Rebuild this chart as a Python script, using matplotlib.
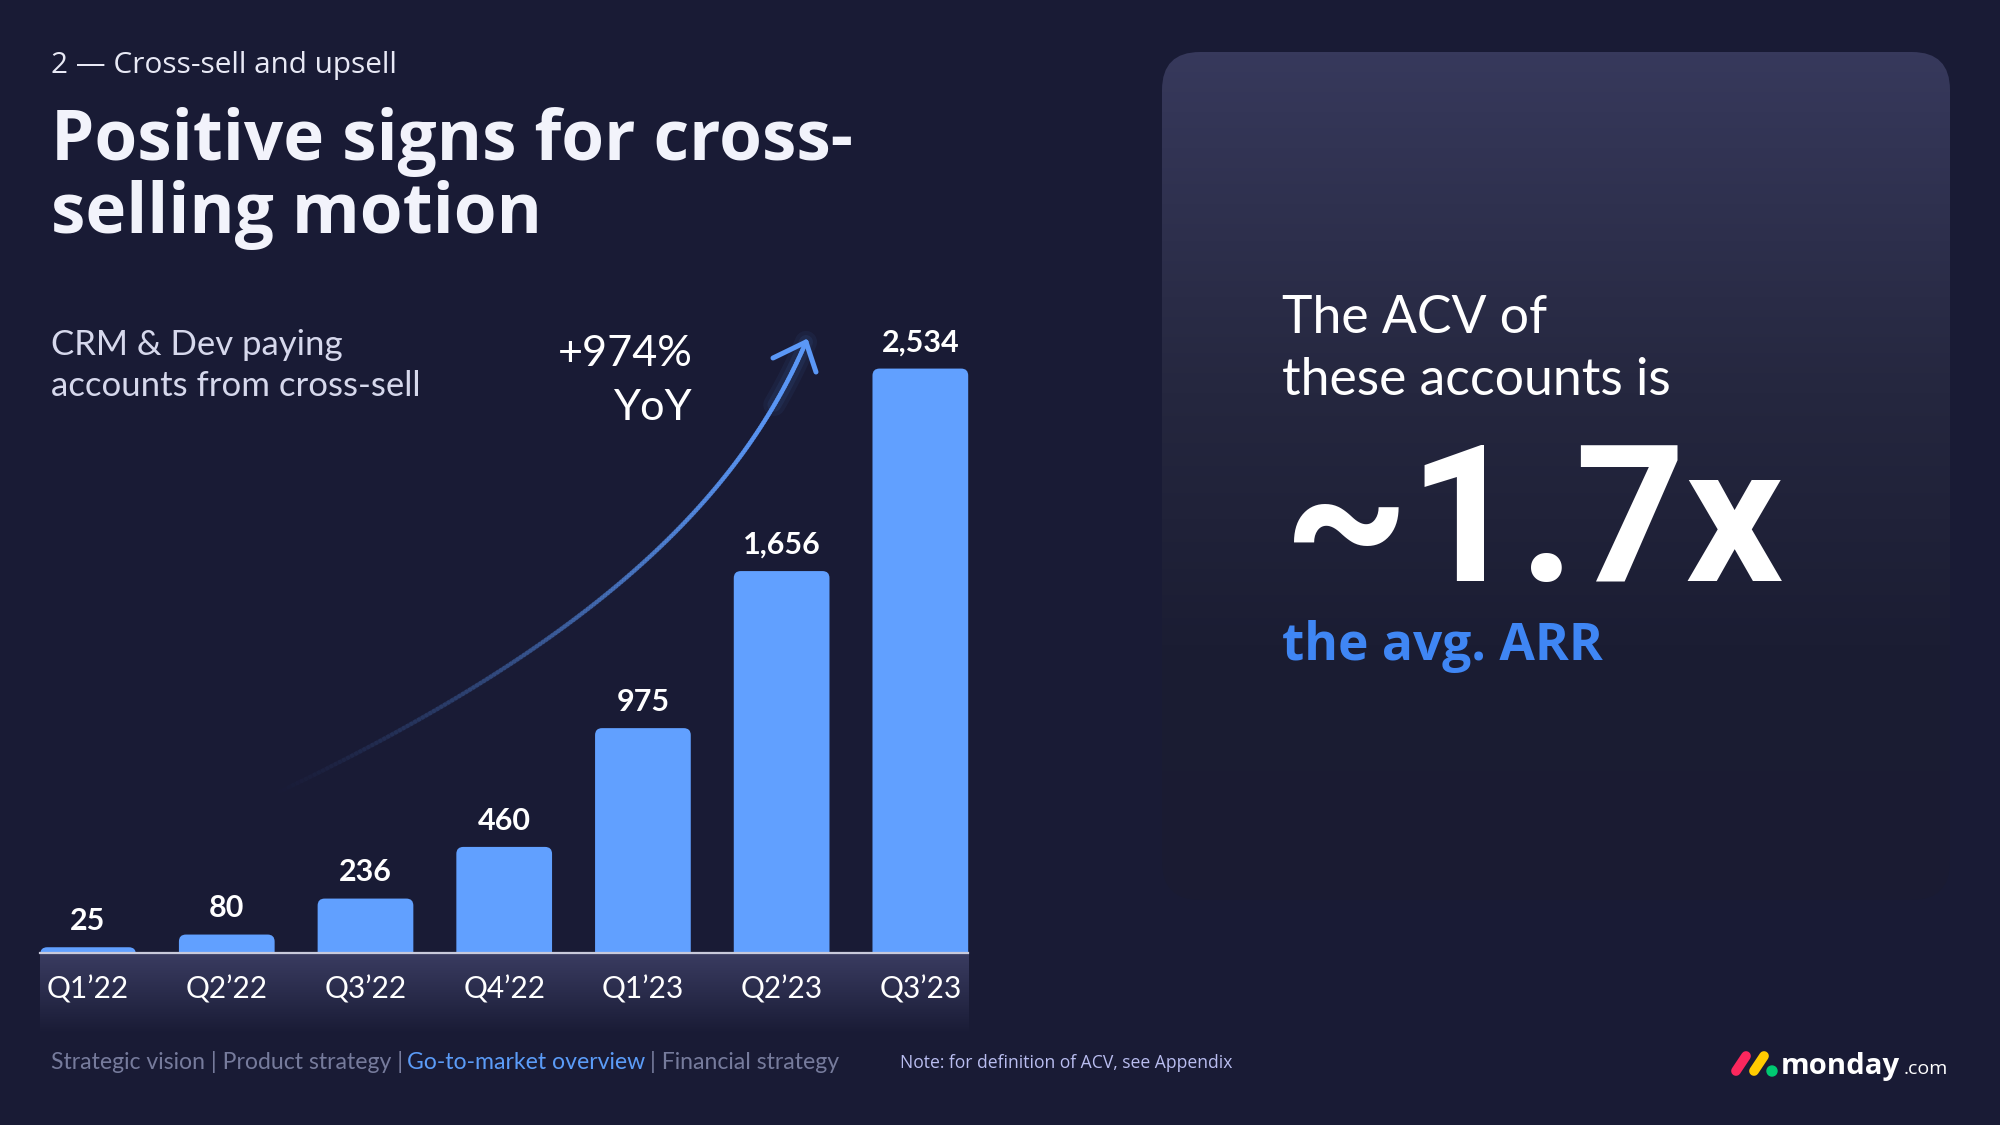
import numpy as np
import matplotlib
matplotlib.use("Agg")
import matplotlib.pyplot as plt
from matplotlib.patches import FancyBboxPatch, Circle
from matplotlib.collections import LineCollection
from matplotlib.colors import LinearSegmentedColormap, to_rgb

# ---- data ----
quarters = ["Q1’22", "Q2’22", "Q3’22", "Q4’22", "Q1’23", "Q2’23", "Q3’23"]
accounts = [25, 80, 236, 460, 975, 1656, 2534]
value_labels = ["25", "80", "236", "460", "975", "1,656", "2,534"]
growth_text = ["+974%", "YoY"]
acv_lines = ["The ACV of", "these accounts is"]
acv_multiple = "~1.7x"
acv_tail = "the avg. ARR"
footer_runs = ["Strategic vision | Product strategy |", "Go-to-market overview",
               "| Financial strategy"]

# ---- style ----
BG = "#191b35"
BAR = "#61a0ff"
BLUE = "#3f86f4"
LIGHT = "#d6d8ec"
W, H = 2000, 1125
BODY = ["Lato", "DejaVu Sans"]
HEAD = ["Open Sans", "DejaVu Sans"]

fig = plt.figure(figsize=(20, 11.25), dpi=100, facecolor=BG)
bg = fig.add_axes([0, 0, 1, 1])
bg.axis("off")
renderer = fig.canvas.get_renderer()


def size_for(s, width, size0=20, **kw):
    t = bg.text(0, 0, s, fontsize=size0, **kw)
    w = t.get_window_extent(renderer).width
    t.remove()
    return size0 * width / w


def fit_text(x, y, s, width, **kw):
    size = size_for(s, width, **{k: v for k, v in kw.items() if k in ("family", "weight")})
    return bg.text(x, y, s, fontsize=size, **kw), size


# ---- right panel with vertical gradient ----
panel = FancyBboxPatch((1162, 52), 788, 848, boxstyle="round,pad=0,rounding_size=38",
                       facecolor="none", edgecolor="none")
bg.add_patch(panel)
grad = np.linspace(0, 1, 256)[:, None]
cmap_panel = LinearSegmentedColormap.from_list(
    "panel", [(0, "#37395c"), (0.4, "#25273f"), (0.7, "#1b1d33"), (1, "#1a1b32")])
im = bg.imshow(grad, extent=(1162, 1950, 900, 52), cmap=cmap_panel, aspect="auto", zorder=0)
im.set_clip_path(panel)

# ---- gradient band under the x axis ----
cmap_band = LinearSegmentedColormap.from_list("band", ["#3a3c61", BG])
bg.imshow(grad, extent=(40, 969, 1034, 953), cmap=cmap_band, aspect="auto", zorder=0)

# ---- headings ----
fit_text(51, 73, "2 — Cross-sell and upsell", 346, family=HEAD, color="#e8e9f5", va="baseline")
t1, ts = fit_text(51, 160, "Positive signs for cross-", 801, family=HEAD, weight="bold",
                  color="#f2f3fb", va="baseline")
bg.text(51, 233, "selling motion", fontsize=ts, family=HEAD, weight="bold",
        color="#f2f3fb", va="baseline")

_, cs = fit_text(51, 396, "accounts from cross-sell", 369, family=BODY, color=LIGHT, va="baseline")
bg.text(51, 355, "CRM & Dev paying", fontsize=cs, family=BODY, color=LIGHT, va="baseline")

_, gs = fit_text(693, 366, growth_text[0], 135, family=BODY, color="white", va="baseline", ha="right")
bg.text(693, 420, growth_text[1], fontsize=gs, family=BODY, color="white", va="baseline", ha="right")

# ---- growth arrow ----
P = np.array([[262, 800], [560, 660], [730, 520], [806, 342]], dtype=float)
tt = np.linspace(0, 1, 200)[:, None]
curve = ((1 - tt) ** 3 * P[0] + 3 * (1 - tt) ** 2 * tt * P[1]
         + 3 * (1 - tt) * tt ** 2 * P[2] + tt ** 3 * P[3])
segs = np.stack([curve[:-1], curve[1:]], axis=1)
alphas = np.clip(np.linspace(0, 1, len(segs)) ** 1.3, 0, 1)
acol = to_rgb("#5b98f7")
bg.add_collection(LineCollection(segs, colors=[(*acol, a) for a in alphas],
                                 linewidths=3.2, capstyle="round", zorder=2))
for lw, a in [(16, 0.06), (10, 0.08)]:
    bg.plot(curve[-25:, 0], curve[-25:, 1], color="#5b98f7", lw=lw, alpha=a,
            solid_capstyle="round", zorder=1)
tip = P[3]
for end in [(773, 358), (816, 372)]:
    bg.plot([tip[0], end[0]], [tip[1], end[1]], color="#5b98f7", lw=3.6,
            solid_capstyle="round", zorder=2)

# ---- right panel text ----
_, ps = fit_text(1282, 395, acv_lines[1], 390, family=BODY, color="white", va="baseline")
bg.text(1282, 333, acv_lines[0], fontsize=ps, family=BODY, color="white", va="baseline")
fit_text(1284, 581, acv_multiple, 500, family=["Roboto", "DejaVu Sans"],
         weight="bold", color="white", va="baseline")
fit_text(1282, 660, acv_tail, 321, family=HEAD, weight="bold", color=BLUE, va="baseline")

# ---- footer ----
fsize = size_for("Strategic vision", 154, family=BODY)
for run, fx in zip(footer_runs, [51, 407, 650]):
    col = "#5b9cf8" if run == "Go-to-market overview" else "#767b9c"
    bg.text(fx, 1069, run, fontsize=fsize, family=BODY, color=col, va="baseline")
fit_text(900, 1068, "Note: for definition of ACV, see Appendix", 332, family=HEAD,
         color="#b9bdf0", va="baseline")

# ---- logo ----
bg.plot([1736, 1746], [1071, 1056], color="#fb275d", lw=7, solid_capstyle="round")
bg.plot([1754, 1764], [1071, 1056], color="#ffcb00", lw=7, solid_capstyle="round")
bg.add_patch(Circle((1772, 1071), 5, color="#00ca72"))
fit_text(1781, 1074, "monday", 119, family=HEAD, weight="bold", color="white", va="baseline")
fit_text(1904, 1074, ".com", 44, family=HEAD, color="white", va="baseline")

bg.set_xlim(0, W)
bg.set_ylim(H, 0)

# ---- bar chart ----
ax = fig.add_axes([18.7 / W, 172 / H, 971 / W, 691.9 / H])
ax.set_facecolor("none")
x = np.arange(len(quarters))
bw = 0.69
ymax = 3000
bars = ax.bar(x, accounts, width=bw, color=BAR, zorder=3)
ax.set_xlim(-0.5, len(quarters) - 0.5)
ax.set_ylim(0, ymax)

# round the top corners
px_x = 971 / len(quarters)          # pixels per x unit
px_y = 691.9 / ymax                 # pixels per y unit
aspect = (1 / px_y) / (1 / px_x)
r = 7 / px_x
ry = r * aspect
for b in bars:
    bx0, by = b.get_xy()
    bwid, bh = b.get_width(), b.get_height()
    b.set_visible(False)
    ax.add_patch(FancyBboxPatch((bx0, by - ry), bwid, bh + ry,
                                boxstyle=f"round,pad=0,rounding_size={r}",
                                mutation_aspect=aspect, facecolor=BAR,
                                edgecolor="none", zorder=3))

ax.plot([x[0] - bw / 2, x[-1] + bw / 2], [0, 0], color="#c9cadb", lw=1.6, zorder=4,
        clip_on=False)

vsize = size_for("2,534", 78, family=BODY, weight="bold")
for xi, v, lbl in zip(x, accounts, value_labels):
    ax.annotate(lbl, (xi, v), xytext=(0, 19), textcoords="offset points",
                ha="center", va="center", fontsize=vsize, family=BODY,
                weight="bold", color="white")

qsize = size_for("Q3’23", 82, family=BODY)
ax.set_xticks(x, quarters, fontsize=qsize, family=BODY, color="white")
ax.tick_params(axis="x", length=0, pad=16)
ax.set_yticks([])
for s in ax.spines.values():
    s.set_visible(False)

fig.savefig("out.png", dpi=100, facecolor=BG)
